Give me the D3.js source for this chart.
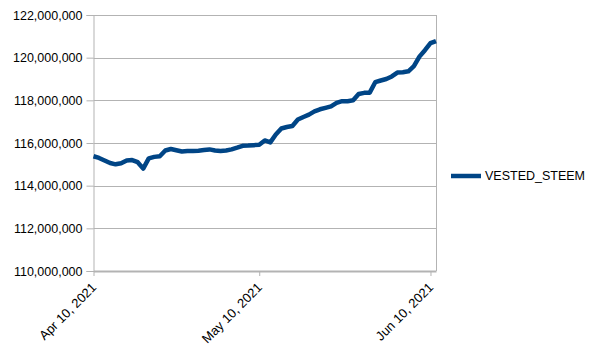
<!DOCTYPE html>
<html>
<head>
<meta charset="utf-8">
<script src="https://cdn.jsdelivr.net/npm/d3@7"></script>
<style>
  body { margin: 0; background: #fff; }
  text { font-family: "Liberation Sans", Arial, sans-serif; }
</style>
</head>
<body>
<div id="chart"></div>
<script>
// Daily VESTED_STEEM values, Apr 10 2021 .. Jun 11 2021 (millions)
const startDate = "2021-04-10";
const vestedSteem = [
  115.38, 115.30, 115.18, 115.06, 115.00, 115.05, 115.18, 115.20, 115.10, 114.80,
  115.28, 115.35, 115.38, 115.65, 115.72, 115.66, 115.60, 115.62, 115.63, 115.64,
  115.67, 115.70, 115.65, 115.63, 115.65, 115.70, 115.78, 115.87, 115.88, 115.90,
  115.92, 116.12, 116.03, 116.40, 116.68, 116.75, 116.80, 117.10, 117.22, 117.33,
  117.48, 117.58, 117.65, 117.72, 117.88, 117.96, 117.96, 118.00, 118.30, 118.35,
  118.36, 118.85, 118.93, 119.00, 119.12, 119.30, 119.32, 119.36, 119.60, 120.05,
  120.35, 120.68, 120.78
];
const seriesName = "VESTED_STEEM";
const yTicks = [110e6, 112e6, 114e6, 116e6, 118e6, 120e6, 122e6];
const xTickDates = ["2021-04-10", "2021-05-10", "2021-06-10"];

const W = 604, H = 354;
const plot = {left: 93.5, right: 436, top: 15, bottom: 271};

const parse = d3.utcParse("%Y-%m-%d");
const t0 = parse(startDate);
const data = vestedSteem.map((v, i) => ({date: d3.utcDay.offset(t0, i), value: v * 1e6}));

const x = d3.scaleUtc()
  .domain([data[0].date, data[data.length - 1].date])
  .range([plot.left, plot.right]);
const y = d3.scaleLinear()
  .domain([110e6, 122e6])
  .range([plot.bottom, plot.top]);

const svg = d3.select("#chart").append("svg")
  .attr("width", W).attr("height", H);

// horizontal gridlines
svg.append("g").selectAll("line")
  .data(yTicks)
  .join("line")
  .attr("x1", plot.left).attr("x2", plot.right)
  .attr("y1", d => Math.round(y(d)) + 0.5).attr("y2", d => Math.round(y(d)) + 0.5)
  .attr("stroke", "#b3b3b3");

// right border of plot area
svg.append("line")
  .attr("x1", Math.round(plot.right) + 0.5).attr("x2", Math.round(plot.right) + 0.5)
  .attr("y1", plot.top).attr("y2", plot.bottom)
  .attr("stroke", "#b3b3b3");

// y axis
const yAxis = svg.append("g")
  .attr("transform", `translate(${plot.left},0)`)
  .call(d3.axisLeft(y).tickValues(yTicks).tickSize(7).tickPadding(4)
    .tickFormat(d3.format(",")));
yAxis.selectAll("line").attr("stroke", "#b3b3b3");
yAxis.select(".domain").attr("stroke", "#b3b3b3");
yAxis.selectAll("text").attr("fill", "#000").style("font-size", "12.5px");

// x axis
const xAxis = svg.append("g")
  .attr("transform", `translate(0,${plot.bottom})`)
  .call(d3.axisBottom(x).tickValues(xTickDates.map(parse)).tickSize(5).tickSizeOuter(0)
    .tickFormat(d3.utcFormat("%b %-d, %Y")));
xAxis.select(".domain").attr("stroke", "#b3b3b3").attr("stroke-width", 2);
xAxis.selectAll("line").attr("stroke", "#b3b3b3");
xAxis.selectAll("text")
  .attr("fill", "#000")
  .style("font-size", "13px")
  .attr("text-anchor", "end")
  .attr("dy", "0.35em")
  .attr("transform", "translate(0,14) rotate(-45)")
  .attr("y", 0).attr("x", 0);

// series line
const line = d3.line()
  .x(d => x(d.date))
  .y(d => y(d.value));
svg.append("path")
  .datum(data)
  .attr("d", line)
  .attr("fill", "none")
  .attr("stroke", "#004586")
  .attr("stroke-width", 4.5)
  .attr("stroke-linejoin", "round");

// legend
const legend = svg.append("g").attr("transform", "translate(451,176)");
legend.append("line")
  .attr("x1", 0).attr("x2", 30)
  .attr("stroke", "#004586").attr("stroke-width", 4.5);
legend.append("text")
  .attr("x", 34).attr("dy", "0.35em")
  .attr("fill", "#000")
  .style("font-size", "12.5px")
  .text(seriesName);
</script>
</body>
</html>
